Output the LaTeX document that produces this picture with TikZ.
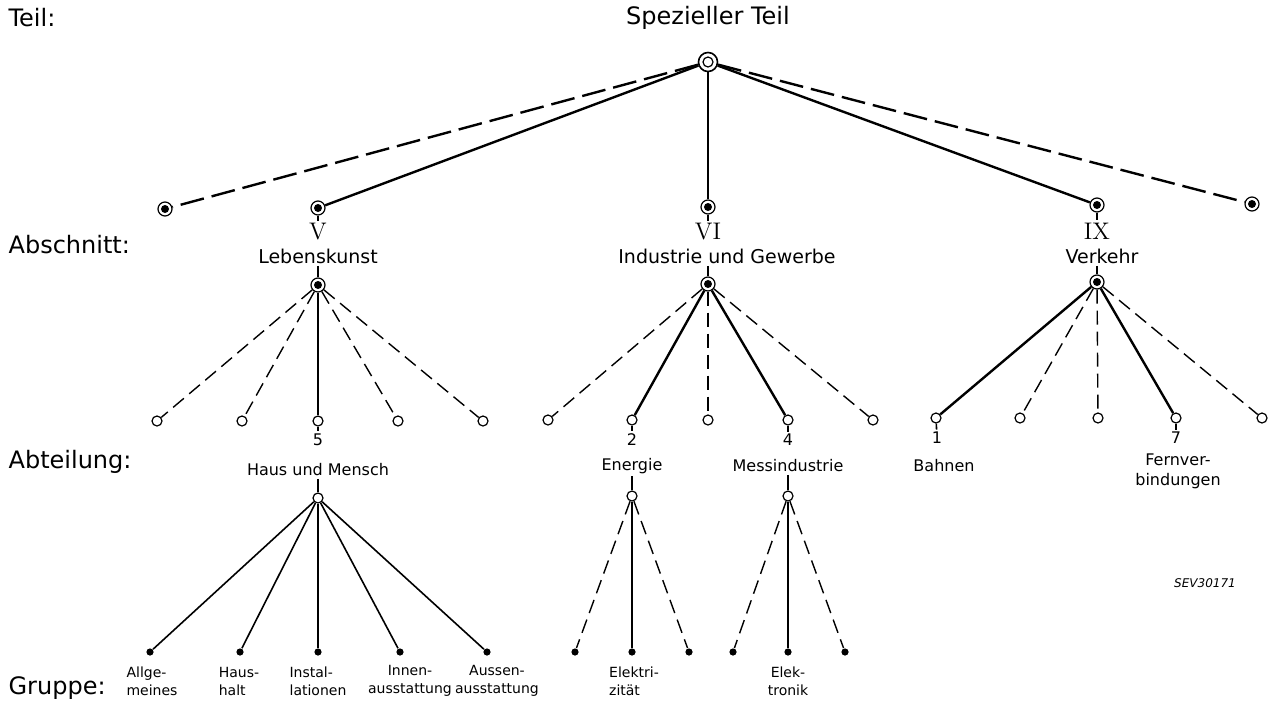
\documentclass[tikz,border=0pt]{standalone}
\usepackage{fontspec}
\setsansfont{DejaVu Sans}
\usetikzlibrary{positioning}

\begin{document}
\begin{tikzpicture}[x=.5pt, y=-.5pt, semithick, font=\sffamily]
  \tikzstyle{every node}=[inner sep=1pt]
  \tikzstyle{root}=[circle, draw, fill=white, line width=.8pt, minimum size=9.5pt, inner sep=0pt,
    path picture={\draw[black, line width=.6pt] (path picture bounding box.center) circle (2.5pt);}]
  \tikzstyle{ringdot}=[circle, draw, fill=white, line width=.6pt, minimum size=7pt, inner sep=0pt,
    path picture={\fill[black] (path picture bounding box.center) circle (2pt);}]
  \tikzstyle{opendot}=[circle, draw, fill=white, line width=.6pt, minimum size=5pt, inner sep=0pt]
  \tikzstyle{fulldot}=[circle, fill, minimum size=3.6pt, inner sep=0pt]
  \tikzstyle{longdash}=[line width=1.2pt, dash pattern=on 12pt off 4pt]
  \tikzstyle{strong}=[line width=1.2pt]
  \tikzstyle{shortdash}=[line width=.7pt, dash pattern=on 7pt off 3.5pt]
  \tikzstyle{thin}=[line width=.8pt]
  \tikzstyle{lvl}=[anchor=west, font=\sffamily\fontsize{12}{14}\selectfont]
  \tikzstyle{rom}=[font=\rmfamily\fontsize{12}{14}\selectfont]
  \tikzstyle{big}=[font=\sffamily\fontsize{9.5}{11}\selectfont]
  \tikzstyle{mid}=[font=\sffamily\fontsize{8}{10}\selectfont, align=center]
  \tikzstyle{small}=[font=\sffamily\fontsize{7}{9}\selectfont]
\useasboundingbox (0,0) rectangle (1269,702);

% Teil
\node[lvl] (l1) at (6,18) {Teil:};
\node[lvl] (l2) at (6,245) {Abschnitt:};
\node[lvl] (l3) at (6,462) {Abteilung:};
\node[lvl] (l4) at (6,688) {Gruppe:};
\node[font=\sffamily\fontsize{12}{14}\selectfont] (top) at (708,18) {Spezieller Teil};
\node[root] (root) at (708,62) {};

% Abschnitt
\node[ringdot] (aL) at (165,209) {};
\node[ringdot] (a5) at (318,208) {};
\node[ringdot] (a6) at (708,207) {};
\node[ringdot] (a9) at (1097,205) {};
\node[ringdot] (aR) at (1252,204) {};
\draw[longdash] (root) -- (aL);
\draw[longdash] (root) -- (aR);
\foreach \k in {5,6,9}
  \draw[strong] (root) -- (a\k);

\node[rom] (r5) at (318,232) {V};
\node[rom] (r6) at (708,232) {VI};
\node[rom] (r9) at (1097,231) {IX};
\node[big] (t5) at (318,256) {Lebenskunst};
\node[big] (t6) at (727,256) {Industrie und Gewerbe};
\node[big] (t9) at (1102,256) {Verkehr};
\node[ringdot] (b5) at (318,285) {};
\node[ringdot] (b6) at (708,284) {};
\node[ringdot] (b9) at (1097,282) {};
\foreach \k in {5,6,9}{
  \draw[thin] (a\k) -- (r\k);
  \draw[thin] (t\k.south -| b\k) -- (b\k);
}

% Abteilung
\foreach \x/\s [count=\i] in {157/shortdash,242/shortdash,318/strong,398/shortdash,483/shortdash}{
  \node[opendot] (c5\i) at (\x,421) {};
  \draw[\s] (b5) -- (c5\i);
}
\foreach \x/\s [count=\i] in {548/shortdash,632/strong,708/shortdash,788/strong,873/shortdash}{
  \node[opendot] (c6\i) at (\x,420) {};
  \draw[\s] (b6) -- (c6\i);
}
\foreach \x/\s [count=\i] in {936/strong,1020/shortdash,1098/shortdash,1176/strong,1262/shortdash}{
  \node[opendot] (c9\i) at (\x,418) {};
  \draw[\s] (b9) -- (c9\i);
}

\node[mid] (n5) at (318,440) {5};
\node[mid] (h5) at (318,470) {Haus und Mensch};
\node[mid] (n2) at (632,440) {2};
\node[mid] (h2) at (632,466) {Energie};
\node[mid] (n4) at (788,440) {4};
\node[mid] (h4) at (788,466) {Messindustrie};
\node[mid] (n1) at (937,438) {1};
\node[mid] (h1) at (944,466) {Bahnen};
\node[mid] (n7) at (1176,438) {7};
\node[mid] (h7) at (1178,471) {Fernver-\\bindungen};
\draw[thin] (c53) -- (n5);
\draw[thin] (c62) -- (n2);
\draw[thin] (c64) -- (n4);
\draw[thin] (c91) -- (n1);
\draw[thin] (c94) -- (n7);

\node[opendot] (d5) at (318,498) {};
\node[opendot] (d2) at (632,496) {};
\node[opendot] (d4) at (788,496) {};
\draw[thin] (h5) -- (d5);
\draw[thin] (h2) -- (d2);
\draw[thin] (h4) -- (d4);

% Gruppe
\foreach \x [count=\i] in {150,240,318,400,487}{
  \node[fulldot] (g5\i) at (\x,652) {};
  \draw[thin] (d5) -- (g5\i);
}
\foreach \x/\s [count=\i] in {575/shortdash,632/thin,689/shortdash}{
  \node[fulldot] (g2\i) at (\x,652) {};
  \draw[\s] (d2) -- (g2\i);
}
\foreach \x/\s [count=\i] in {733/shortdash,788/thin,845/shortdash}{
  \node[fulldot] (g4\i) at (\x,652) {};
  \draw[\s] (d4) -- (g4\i);
}

\node[small, align=left] (s1) at (152,681) {Allge-\\meines};
\node[small, align=left] (s2) at (239,681) {Haus-\\halt};
\node[small, align=left] (s3) at (318,681) {Instal-\\lationen};
\node[small, align=center] (s4) at (410,681) {Innen-\\ausstattung};
\node[small, align=center] (s5) at (497,681) {Aussen-\\ausstattung};
\node[small, align=left] (s6) at (634,681) {Elektri-\\zität};
\node[small, align=center] (s7) at (788,681) {Elek-\\tronik};

\node[small, font=\sffamily\itshape\fontsize{6}{7}\selectfont] (sev) at (1205,583) {SEV30171};
\end{tikzpicture}
\end{document}
